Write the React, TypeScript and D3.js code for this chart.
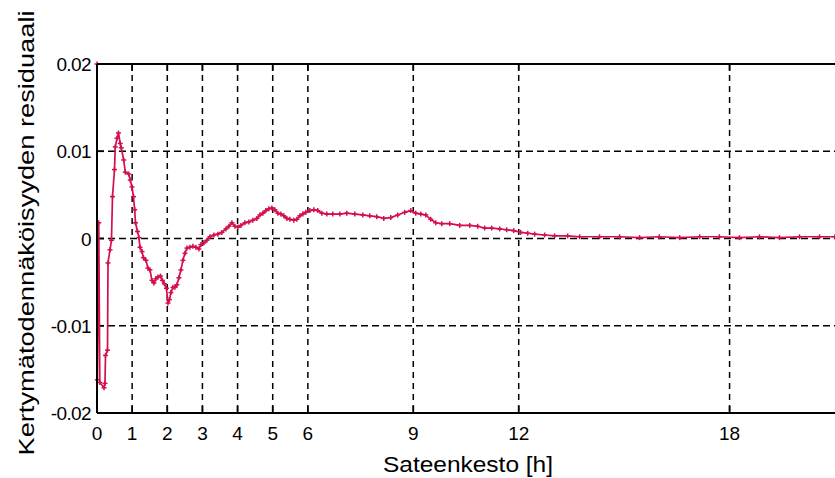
import React from "react";
import * as d3 from "d3";

const hours = [
  0, 0.01, 0.05, 0.08, 0.199, 0.227, 0.242, 0.299, 0.313, 0.37, 0.412, 0.441, 0.498, 0.52, 0.569, 0.611,
  0.662, 0.691, 0.759, 0.805, 0.901, 0.947, 0.995, 1.038, 1.072, 1.095, 1.152, 1.194, 1.223, 1.28, 1.322,
  1.393, 1.45, 1.507, 1.564, 1.621, 1.678, 1.734, 1.805, 1.862, 1.919, 1.976, 2.019, 2.061, 2.104, 2.161,
  2.218, 2.275, 2.331, 2.388, 2.445, 2.502, 2.559, 2.644, 2.73, 2.815, 2.9, 2.957, 3.042, 3.128, 3.213,
  3.327, 3.441, 3.554, 3.668, 3.753, 3.839, 3.924, 4.009, 4.094, 4.208, 4.322, 4.435, 4.549, 4.635, 4.72,
  4.805, 4.89, 4.976, 5.061, 5.146, 5.232, 5.317, 5.402, 5.487, 5.601, 5.687, 5.772, 5.857, 5.942, 6.056,
  6.17, 6.284, 6.398, 6.54, 6.71, 6.91, 7.108, 7.336, 7.563, 7.762, 7.961, 8.16, 8.359, 8.558, 8.757,
  8.928, 9.07, 9.213, 9.355, 9.497, 9.639, 9.81, 10.037, 10.321, 10.606, 10.833, 11.032, 11.231, 11.459,
  11.658, 11.857, 12.056, 12.255, 12.454, 12.738, 13.022, 13.392, 13.733, 14.3, 14.87, 15.44, 16.0, 16.58,
  17.15, 17.71, 18.28, 18.85, 19.42, 19.99, 20.56, 21.0,
];

const residual = [
  0.02, -0.0162, 0.0018, -0.0165, -0.0171, -0.0166, -0.0134, -0.0128, -0.0028, -0.0013, -0.0002, 0.0048,
  0.0079, 0.0105, 0.0115, 0.0121, 0.0109, 0.0104, 0.009, 0.0076, 0.0074, 0.0067, 0.0059, 0.0048, 0.0033,
  0.0018, 0.0008, 0.0001, -0.001, -0.0015, -0.0022, -0.0025, -0.0034, -0.0036, -0.0048, -0.0051, -0.0046,
  -0.0044, -0.0043, -0.0048, -0.0052, -0.0057, -0.0074, -0.007, -0.0062, -0.0056, -0.0056, -0.0053,
  -0.0045, -0.0036, -0.0025, -0.0017, -0.0011, -0.001, -0.0009, -0.001, -0.0012, -0.0007, -0.0005,
  -0.0002, 0.0002, 0.0004, 0.0005, 0.0007, 0.0011, 0.0014, 0.0018, 0.0014, 0.0013, 0.0015, 0.0018,
  0.0019, 0.0021, 0.0023, 0.0027, 0.0029, 0.0032, 0.0034, 0.0035, 0.0033, 0.0029, 0.0028, 0.0026,
  0.0023, 0.0022, 0.0021, 0.0022, 0.0026, 0.0028, 0.003, 0.0032, 0.0033, 0.0032, 0.0029, 0.0028,
  0.0028, 0.0028, 0.0029, 0.0028, 0.0027, 0.0026, 0.0025, 0.0023, 0.0024, 0.0027, 0.003, 0.0032,
  0.0029, 0.0028, 0.0027, 0.0022, 0.0018, 0.0017, 0.0017, 0.0015, 0.0015, 0.0014, 0.0012, 0.0012,
  0.0011, 0.001, 0.0009, 0.0007, 0.0006, 0.0005, 0.0004, 0.0003, 0.0003, 0.0002, 0.0002, 0.0002,
  0.0001, 0.0002, 0.0001, 0.0002, 0.0002, 0.0001, 0.0002, 0.0001, 0.0002, 0.0002, 0.0002,
];

const xTicks = [0, 1, 2, 3, 4, 5, 6, 9, 12, 18];
const yTicks = [-0.02, -0.01, 0, 0.01, 0.02];
const yTickLabels = ["-0.02", "-0.01", "0", "0.01", "0.02"];
const xTitle = "Sateenkesto [h]";
const yTitle = "Kertymätodennäköisyyden residuaali";

const W = 835;
const H = 478;
const LEFT = 97;
const RIGHT = 835;
const TOP = 64;
const BOTTOM = 413;
const LINE_COLOR = "#d3104c";
const FONT = "'Liberation Sans', Arial, sans-serif";

export default function App() {
  const x = d3.scaleLinear().domain([0, 21]).range([LEFT, RIGHT]);
  const y = d3.scaleLinear().domain([-0.02, 0.02]).range([BOTTOM, TOP]);
  const pts: [number, number][] = hours.map((h, i) => [h, residual[i]]);
  const line = d3
    .line<[number, number]>()
    .x((d) => x(d[0]))
    .y((d) => y(d[1]));
  const tickLen = 7;

  return (
    <svg
      width={W}
      height={H}
      style={{ position: "absolute", left: 0, top: 0, background: "#fff" }}
    >
      <rect x={0} y={0} width={W} height={H} fill="#fff" />
      {xTicks
        .filter((t) => t !== 0)
        .map((t) => (
          <g key={"vx" + t}>
            <line
              x1={x(t)}
              x2={x(t)}
              y1={TOP}
              y2={BOTTOM}
              stroke="#000"
              strokeWidth={1.5}
              strokeDasharray="6,5"
            />
            <line x1={x(t)} x2={x(t)} y1={TOP} y2={TOP + tickLen} stroke="#000" strokeWidth={1.7} />
            <line x1={x(t)} x2={x(t)} y1={BOTTOM - tickLen} y2={BOTTOM} stroke="#000" strokeWidth={1.7} />
          </g>
        ))}
      {yTicks
        .filter((t) => t !== -0.02 && t !== 0.02)
        .map((t) => (
          <g key={"hy" + t}>
            <line
              x1={LEFT}
              x2={RIGHT}
              y1={y(t)}
              y2={y(t)}
              stroke="#000"
              strokeWidth={1.5}
              strokeDasharray="7,4"
            />
            <line x1={LEFT} x2={LEFT + tickLen} y1={y(t)} y2={y(t)} stroke="#000" strokeWidth={1.7} />
          </g>
        ))}
      <path d={line(pts) || ""} fill="none" stroke={LINE_COLOR} strokeWidth={1.7} />
      {pts.map((d, i) => (
        <g key={"m" + i} stroke={LINE_COLOR} strokeWidth={1.5}>
          <line x1={x(d[0]) - 2.5} x2={x(d[0]) + 2.5} y1={y(d[1])} y2={y(d[1])} />
          <line x1={x(d[0])} x2={x(d[0])} y1={y(d[1]) - 2.5} y2={y(d[1]) + 2.5} />
        </g>
      ))}
      <line x1={LEFT} x2={RIGHT} y1={TOP} y2={TOP} stroke="#000" strokeWidth={2} />
      <line x1={LEFT} x2={RIGHT} y1={BOTTOM} y2={BOTTOM} stroke="#000" strokeWidth={2} />
      <line x1={LEFT} x2={LEFT} y1={TOP} y2={BOTTOM} stroke="#000" strokeWidth={2} />
      {xTicks.map((t) => (
        <text
          key={"xl" + t}
          x={x(t)}
          y={440}
          textAnchor="middle"
          fontFamily={FONT}
          fontSize={19}
          fill="#000"
        >
          {String(t)}
        </text>
      ))}
      {yTicks.map((t, i) => (
        <text
          key={"yl" + t}
          x={91}
          y={y(t) + 7}
          textAnchor="end"
          fontFamily={FONT}
          fontSize={19}
          letterSpacing={-0.6}
          fill="#000"
        >
          {yTickLabels[i]}
        </text>
      ))}
      <text
        x={468}
        y={472}
        textAnchor="middle"
        fontFamily={FONT}
        fontSize={22}
        textLength={170}
        lengthAdjust="spacingAndGlyphs"
        fill="#000"
      >
        {xTitle}
      </text>
      <text
        transform="translate(34,233) rotate(-90)"
        textAnchor="middle"
        fontFamily={FONT}
        fontSize={22}
        textLength={445}
        lengthAdjust="spacingAndGlyphs"
        fill="#000"
      >
        {yTitle}
      </text>
    </svg>
  );
}
